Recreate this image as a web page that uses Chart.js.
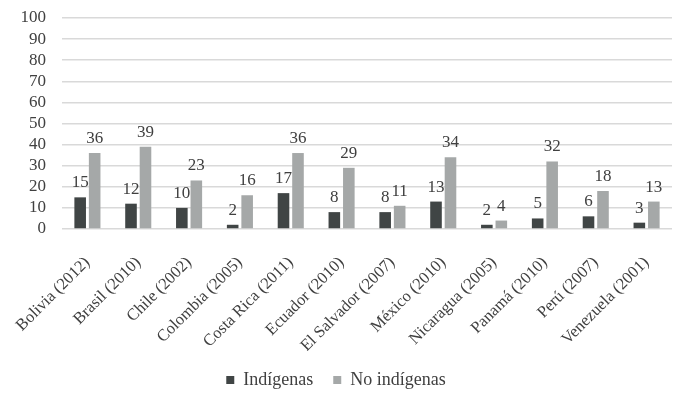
<!DOCTYPE html>
<html>
<head>
    <script src="https://cdn.jsdelivr.net/npm/chart.js"></script>
    <style>
        body { margin: 0; background: #ffffff; }
        .chart-container { width: 681px; height: 396px; }
    </style>
</head>
<body>
    <div class="chart-container">
        <canvas id="indigenasChart"></canvas>
    </div>
    <script>
        const countries = ['Bolivia (2012)', 'Brasil (2010)', 'Chile (2002)', 'Colombia (2005)', 'Costa Rica (2011)',
            'Ecuador (2010)', 'El Salvador (2007)', 'México (2010)', 'Nicaragua (2005)', 'Panamá (2010)',
            'Perú (2007)', 'Venezuela (2001)'];
        const indigenas = [15, 12, 10, 2, 17, 8, 8, 13, 2, 5, 6, 3];
        const noIndigenas = [36, 39, 23, 16, 36, 29, 11, 34, 4, 32, 18, 13];
        const yTicks = [0, 10, 20, 30, 40, 50, 60, 70, 80, 90, 100];

        const textColor = '#404040';
        const serif = 'Liberation Serif, DejaVu Serif, serif';

        // draws the value above each bar
        const valueLabels = {
            id: 'valueLabels',
            afterDatasetsDraw(chart) {
                const ctx = chart.ctx;
                ctx.save();
                ctx.font = '17px ' + serif;
                ctx.fillStyle = textColor;
                ctx.textAlign = 'center';
                ctx.textBaseline = 'alphabetic';
                chart.data.datasets.forEach((ds, i) => {
                    chart.getDatasetMeta(i).data.forEach((bar, j) => {
                        ctx.fillText(ds.data[j], bar.x, bar.y - 10);
                    });
                });
                ctx.restore();
            }
        };

        new Chart(document.getElementById('indigenasChart'), {
            type: 'bar',
            data: {
                labels: countries,
                datasets: [
                    {
                        label: 'Indígenas',
                        data: indigenas,
                        backgroundColor: '#404545',
                        categoryPercentage: 0.57,
                        barPercentage: 0.8
                    },
                    {
                        label: 'No indígenas',
                        data: noIndigenas,
                        backgroundColor: '#a5a8a8',
                        categoryPercentage: 0.57,
                        barPercentage: 0.8
                    }
                ]
            },
            options: {
                responsive: true,
                maintainAspectRatio: false,
                animation: false,
                layout: { padding: { top: 0, right: 9, left: 0, bottom: -3 } },
                plugins: {
                    legend: {
                        position: 'bottom',
                        labels: {
                            boxWidth: 8,
                            boxHeight: 8,
                            padding: 20,
                            color: textColor,
                            font: { family: serif, size: 18 }
                        }
                    },
                    tooltip: { enabled: false }
                },
                scales: {
                    x: {
                        grid: { display: false },
                        border: { display: false },
                        afterFit: axis => { axis.paddingLeft = 0; axis.paddingRight = 0; axis.height = 122; },
                        ticks: {
                            color: textColor,
                            autoSkip: false,
                            minRotation: 45,
                            maxRotation: 45,
                            padding: 16,
                            font: { family: serif, size: 16.5 }
                        }
                    },
                    y: {
                        min: 0,
                        max: 100,
                        afterBuildTicks: axis => { axis.ticks = yTicks.map(v => ({ value: v })); },
                        afterFit: axis => { axis.width = 62; axis.paddingTop = 18; axis.paddingBottom = 0; },
                        grid: { color: '#d9d9d9', lineWidth: 1.5, drawTicks: false },
                        border: { display: false },
                        ticks: {
                            color: textColor,
                            autoSkip: false,
                            padding: 16,
                            font: { family: serif, size: 17 }
                        }
                    }
                }
            },
            plugins: [valueLabels]
        });
    </script>
</body>
</html>
